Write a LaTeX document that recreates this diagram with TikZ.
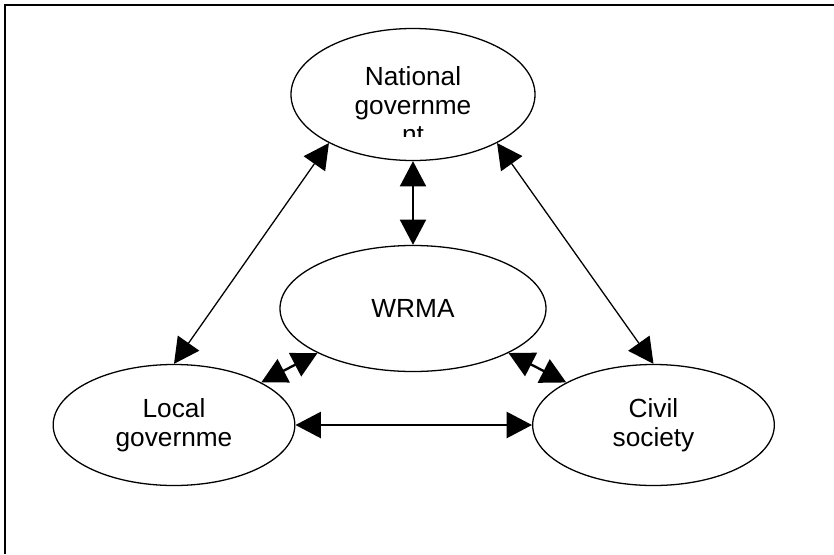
\documentclass[tikz,border=0pt]{standalone}
\usepackage{fontspec}
\setmainfont{Liberation Sans}
\usetikzlibrary{shapes.geometric}
\usetikzlibrary{arrows.meta}
\newcommand{\tiplen}{0.76cm}
\newcommand{\tipwid}{0.78cm}
\newcommand{\natw}{7.32cm}
\newcommand{\nath}{3.96cm}
\newcommand{\wrmaw}{7.98cm}
\newcommand{\wrmah}{3.78cm}
\newcommand{\sidew}{7.25cm}
\newcommand{\sideh}{3.63cm}
\begin{document}
\begin{tikzpicture}[x=0.03cm,y=-0.03cm,font=\fontsize{22.4}{24.7}\selectfont,
    blob/.style={ellipse,draw,line width=1.1pt,inner sep=0pt,align=center},
    link/.style={{Triangle[length=\tiplen,width=\tipwid]}-{Triangle[length=\tiplen,width=\tipwid]},
      line width=1.1pt},
    boldlink/.style={link,line width=2pt}]
    \useasboundingbox (0,0) rectangle (834,554);
    \draw[line width=1.3pt] (834,5) -- (5,5) -- (5,554);

    \node[blob,minimum width=\natw,minimum height=\nath] (nat) at (413,94.5) {};
    \begin{scope}
      \clip (280,20) rectangle (550,136);
      \node[anchor=north,align=center,inner sep=0pt] (natlbl) at (413,66)
        {National\\governme\\nt};
    \end{scope}
    \node[blob,minimum width=\wrmaw,minimum height=\wrmah] (wrma) at (413,308.5) {WRMA};
    \node[blob,minimum width=\sidew,minimum height=\sideh] (loc) at (174,425)
      {Local\\governme};
    \node[blob,minimum width=\sidew,minimum height=\sideh] (civ) at (653.5,425)
      {Civil\\society};

    \draw[link] (nat.210) -- (loc.north);
    \draw[link] (nat.330) -- (civ.north);
    \draw[boldlink] (nat.south) -- (wrma.north);
    \draw[boldlink] (loc.east) -- (civ.west);
    \draw[boldlink] (wrma.205) -- (loc.26);
    \draw[boldlink] (wrma.335) -- (civ.154);
  \end{tikzpicture}
\end{document}
